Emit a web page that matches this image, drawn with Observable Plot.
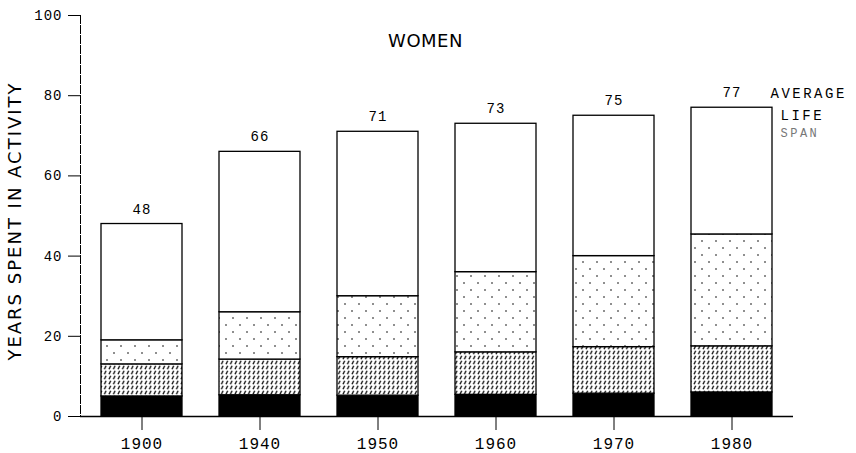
<!DOCTYPE html>
<html><head><meta charset="utf-8">
<script src="https://cdn.jsdelivr.net/npm/d3@7"></script>
<script src="https://cdn.jsdelivr.net/npm/@observablehq/plot@0.6"></script>
<style>body{margin:0;background:#fff}</style>
</head><body><div id="chart"></div>
<script>
// Data (years of a woman's life spent in each activity)
const years = ["1900", "1940", "1950", "1960", "1970", "1980"];
const lifeSpan = [48, 66, 71, 73, 75, 77];          // average life span (bar totals)
const solidSeg = [5.0, 5.3, 5.2, 5.4, 5.7, 6.0];     // black segment
const hatchSeg = [8.0, 8.9, 9.6, 10.6, 11.6, 11.5];  // hatched segment
const dotSeg = [6.0, 11.8, 15.2, 20.0, 22.7, 27.9];  // dotted segment
const segments = ["solid", "hatched", "dotted", "open"];
const yTicks = [0, 20, 40, 60, 80, 100];
const titleText = "WOMEN";
const yTitle = "YEARS SPENT IN ACTIVITY";
const noteLines = ["AVERAGE", "LIFE", "SPAN"];

const rows = [];
years.forEach((yr, i) => {
  const open = lifeSpan[i] - solidSeg[i] - hatchSeg[i] - dotSeg[i];
  [solidSeg[i], hatchSeg[i], dotSeg[i], open].forEach((v, k) =>
    rows.push({year: yr, segment: segments[k], value: v}));
});

const mono = "'Liberation Mono', 'DejaVu Sans Mono', monospace";
const sans = "'DejaVu Sans', sans-serif";

const plot = Plot.plot({
  width: 856, height: 453,
  marginLeft: 80, marginRight: 63, marginTop: 15, marginBottom: 37,
  style: {fontFamily: mono, background: "white", color: "black"},
  x: {domain: years, paddingInner: 0.316, paddingOuter: 0.169, label: null},
  y: {domain: [0, 100], label: null},
  color: {domain: segments, range: ["black", "url(#hatch)", "url(#dots)", "white"]},
  marks: [
    Plot.barY(rows, {x: "year", y: "value", fill: "segment", stroke: "black", strokeWidth: 1.3}),
    Plot.ruleY([0], {strokeWidth: 1.6}),
    Plot.frame({anchor: "left", strokeDasharray: "8,2"}),
    Plot.axisY({ticks: yTicks, tickSize: 12, tickPadding: 6, fontSize: 14, label: null}),
    Plot.axisX({tickSize: 14, tickPadding: 7, fontSize: 16, label: null}),
    Plot.text(years, {x: d => d, y: (d, i) => lifeSpan[i], text: (d, i) => String(lifeSpan[i]),
      dy: -15, fontSize: 14}),
    Plot.text([titleText], {frameAnchor: "top-left", dx: 345, dy: 26, fontSize: 18,
      fontFamily: sans, lineAnchor: "middle", textAnchor: "middle"}),
    Plot.text([yTitle], {frameAnchor: "left", dx: -65, dy: 5, rotate: -90, fontSize: 18,
      fontFamily: sans, lineAnchor: "middle", textAnchor: "middle"}),
    Plot.text([noteLines[0]], {frameAnchor: "top-left", dx: 690, dy: 78, fontSize: 14,
      textAnchor: "start", lineAnchor: "middle"}),
    Plot.text([noteLines[1]], {frameAnchor: "top-left", dx: 700, dy: 100, fontSize: 14,
      textAnchor: "start", lineAnchor: "middle"}),
    Plot.text([noteLines[2]], {frameAnchor: "top-left", dx: 700, dy: 118, fontSize: 12,
      textAnchor: "start", lineAnchor: "middle", fill: "#777"})
  ]
});

// patterns for hatched and dotted fills
const ns = "http://www.w3.org/2000/svg";
const defs = document.createElementNS(ns, "defs");
defs.innerHTML = `
  <pattern id="hatch" patternUnits="userSpaceOnUse" width="4.5" height="5">
    <rect width="4.5" height="5" fill="white"/>
    <line x1="1" y1="4.2" x2="2.6" y2="0.8" stroke="black" stroke-width="1.3"/>
  </pattern>
  <pattern id="dots" patternUnits="userSpaceOnUse" width="14" height="14">
    <rect width="14" height="14" fill="white"/>
    <circle cx="2" cy="3" r="0.8" fill="black"/>
    <circle cx="9" cy="10" r="0.8" fill="black"/>
  </pattern>`;
plot.insertBefore(defs, plot.firstChild);

// letter spacing to mimic the plotter lettering
d3.select(plot).selectAll("text").each(function () {
  const t = this.textContent;
  let ls = 1;
  if (t === yTitle) ls = 2;
  else if (t === titleText) ls = 0.5;
  else if (years.includes(t)) ls = 1;
  else if (noteLines.includes(t)) ls = 2.5;
  this.style.letterSpacing = ls + "px";
});

document.getElementById("chart").appendChild(plot);
</script>
</body></html>
